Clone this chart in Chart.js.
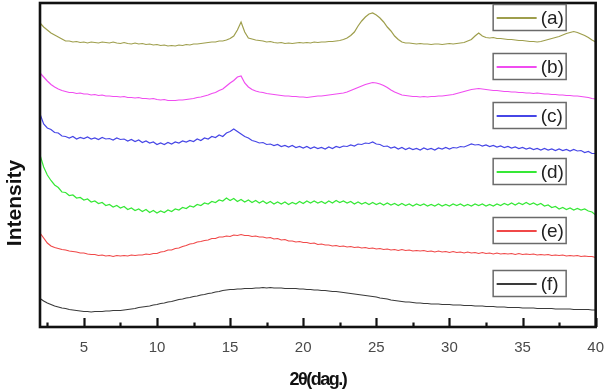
<!DOCTYPE html>
<html>
<head>
<meta charset="utf-8">
<script src="https://cdn.jsdelivr.net/npm/chart.js@4.4.1/dist/chart.umd.min.js"></script>
<style>
html,body{margin:0;padding:0;background:#fff;}
#wrap{width:616px;height:390px;position:relative;}
</style>
</head>
<body>
<div id="wrap"><canvas id="c" width="616" height="390"></canvas></div>
<script>
// 2-theta angles (deg)
const angles = [2,2.25,2.5,2.75,3,3.25,3.5,3.75,4,4.25,4.5,4.75,5,5.25,5.5,5.75,6,6.25,6.5,6.75,7,7.25,7.5,7.75,8,8.25,8.5,8.75,9,9.25,9.5,9.75,10,10.25,10.5,10.75,11,11.25,11.5,11.75,12,12.25,12.5,12.75,13,13.25,13.5,13.75,14,14.25,14.5,14.75,15,15.25,15.5,15.75,16,16.25,16.5,16.75,17,17.25,17.5,17.75,18,18.25,18.5,18.75,19,19.25,19.5,19.75,20,20.25,20.5,20.75,21,21.25,21.5,21.75,22,22.25,22.5,22.75,23,23.25,23.5,23.75,24,24.25,24.5,24.75,25,25.25,25.5,25.75,26,26.25,26.5,26.75,27,27.25,27.5,27.75,28,28.25,28.5,28.75,29,29.25,29.5,29.75,30,30.25,30.5,30.75,31,31.25,31.5,31.75,32,32.25,32.5,32.75,33,33.25,33.5,33.75,34,34.25,34.5,34.75,35,35.25,35.5,35.75,36,36.25,36.5,36.75,37,37.25,37.5,37.75,38,38.25,38.5,38.75,39,39.25,39.5,39.75,40];

// intensities (offset, arbitrary units)
const seriesA = [304,300,297,294, 292,290,288,286, 286,285,285.5,284.5, 285,284,285,284.5, 284,285,284.5,284, 285,284,283.5,284.5, 283.5,283,284,283, 283.5,282.5,283,282, 282.5,281.5,282,281, 281.5,281,282,281.5, 282.5,282,283,283, 283.5,284,284.5,285, 285,286,286,287, 288.5,291,297,305, 295,289,288,287, 286.5,286,285,285.5, 284.5,284,284.5,283.5, 284,283.5,284,284.5, 284,284.5,284,285, 284.5,285,285,285.5, 285.5,286,286.5,287.5, 289,291.5,295,301, 306,310,313,314, 312,309,305,300, 296,291,287.5,285, 284,284,283.5,283, 283.5,283,283,282.5, 283,283,282.5,283, 283.5,283,283.5,284, 284.5,286,287.5,291, 294,291,289.5,289, 289.5,288.5,288.5,288, 287.5,287.5,287,286.5, 286.5,286,285.5,285.5, 285,285.5,286.5,287.5, 288.5,289.5,290.5,292, 293.5,294.5,295.5,294.5, 293,291.5,289.5,287, 285];
const seriesB = [254,250,246,242.5, 240,238,236.5,235.5, 234.5,234.5,233.5,234, 233,233,232,232.5, 231.5,232,231,231, 230.5,230.5,230,230.5, 229.5,229.5,229,229.5, 228.5,228.5,228,228.5, 227.5,227,227.5,226.5, 226.5,226.5,227,227, 227.5,228,228.5,229.5, 230,231,232,233.5, 234.5,236.5,238,241, 244,246.5,250,251, 244,240,237.5,236, 235,234.5,233.5,233, 232.5,232,231.5,231, 231,230.5,230.5,230, 230,229.5,230,230.5, 231,231,231.5,232, 232.5,233,233.5,234, 235,236.5,238,239.5, 241,242.5,243.5,244.5, 244,243,241.5,239.5, 237,235,233.5,232, 231.5,231,230.5,230.5, 230,230.5,230,230.5, 230.5,231,231,231.5, 232,232.5,233.5,234.5, 235.5,236.5,237.5,238, 238.5,238,237.5,237, 236.5,236.5,236,235.5, 235.5,235,235,234.5, 234.5,234,234,233.5, 234,233.5,233,233, 232.5,232.5,232,232, 231.5,231.5,231,231, 230.5,230,229.5,228.5, 228];
const seriesC = [213,203,199,197.5, 194.5,194,191,190.5, 189,190.5,188,189.5, 188.5,190,188,189, 187.5,189.5,188,188.5, 187,189,187.5,188, 186,187.5,185.5,187, 184.5,186,184,185, 182.5,184,182.5,184.5, 183,185,184,186, 185,186.5,185.5,188, 186.5,189,188,190.5, 189.5,192,190.5,194, 195.5,198,195.5,193, 190.5,189,186.5,185.5, 184,184.5,182.5,183, 181.5,182.5,180.5,181.5, 180,181.5,179.5,180.5, 179,180.5,178.5,180, 178.5,179.5,178,180, 178.5,180.5,179.5,181, 180.5,182,181,183, 182.5,184,183.5,185, 183,182.5,180.5,181, 179,180,178,179.5, 177.5,179,177.5,178.5, 177,179,177.5,178.5, 177,179,178,179.5, 178,179.5,179,180.5, 180,181.5,183,182, 182.5,181,182,180.5, 181.5,180,181,179.5, 180.5,179,180,178.5, 179.5,178,179,177.5, 178.5,177,178.5,177, 178,176.5,178,176.5, 177.5,176,177.5,176, 176.5,174.5,175.5,173.5, 173.5];
const seriesD = [172,160,152,146.5, 142,139.5,135,134.5, 131.5,132,129,129.5, 127,128,125,126, 123.5,124.5,121.5,122.5, 120,121.5,119,120.5, 117.5,119,116.5,118, 115.5,117.5,114.5,116.5, 114,116,114.5,117, 115.5,118,117,119.5, 118.5,121,120,122.5, 121.5,124,123,125.5, 124.5,127,126,129, 126.5,128.5,125.5,127.5, 125,127,124.5,126.5, 124,126,123.5,125.5, 123,125,123,125, 122.5,124.5,123,125.5, 123.5,126,124,126, 124,125.5,123.5,126, 124,126.5,124.5,126, 124,125.5,123,125, 123,124.5,122.5,124.5, 122.5,124,122,124, 122,123.5,121.5,123.5, 121.5,123,121,123, 121.5,123,121,122.5, 121,123,121,122.5, 121,123,121.5,123, 121,122.5,121,123, 121.5,123,121,122.5, 121,123,121.5,123.5, 122,124,122,124, 122.5,124.5,122.5,124, 122,123.5,121,122, 119.5,120.5,118,119.5, 117.5,119,117,118.5, 117,118,116,115, 112];
const seriesE = [94,89,84,81, 79.5,78.5,77.5,77, 76,75.5,75,74, 74,73,72.5,72.5, 71.5,72,71,71.5, 70.5,71.5,71,71.5, 71,72,71.5,72, 72,73,72.5,73.5, 73.5,75,75.5,77, 77,78.5,79,80.5, 81.5,83,83.5,85, 85.5,86.5,87,88.5, 88.5,90,90,91, 90.5,92,91.5,92.5, 91.5,91.5,90.5,91, 90,90,89,89.5, 88,88.5,87,87.5, 86,86,85,85.5, 84.5,84.5,83.5,84, 82.5,83,82,82, 81,81.5,80.5,81, 80,80.5,79.5,80, 79,79.5,78.5,79, 78,78.5,77.5,78, 77,77.5,76.5,77.5, 76.5,77,76,76.5, 76,76.5,75.5,76, 75,76,75,75.5, 74.5,75.5,74.5,75, 74,75,74,74.5, 73.5,74.5,73.5,74, 73,74,73,73.5, 73,73.5,72.5,73.5, 72.5,73,72.5,73, 72,72.5,72,72.5, 71.5,72,71.5,72, 71,71.5,71,71.5, 70.5,71,70.5,70.5, 69.5];
const seriesF = [28.5,26,24,22.5, 21,20,19,18.5, 17.5,17,16.5,16, 15.5,15.5,15,15.5, 15.5,15.5,16,16, 16.5,16.5,16.5,17, 17.5,18,18.5,19.5, 20,20.5,21,22, 22.5,23.5,24,25, 25.5,26.5,27.5,28, 29,29.5,30.5,31, 32,32.5,33.5,34, 35,35.5,36.5,37, 37.5,37.5,38,38, 38.5,38.5,38.5,39, 39,39.5,39,39.5, 39,39,39,38.5, 38.5,38.5,38.5,38, 38,37.5,37.5,37, 37,36.5,36.5,36, 35.5,35.5,35,34.5, 34,33.5,33,32.5, 32,31.5,31,30.5, 30,29,28.5,28, 27,26.5,26,25.5, 25,25,24.5,24, 24,23.5,23.5,23, 23,23,22.5,22.5, 22.5,22,22,22, 21.5,21.5,21.5,21, 21,21,20.5,20.5, 20.5,20,20,20, 19.5,19.5,19.5,19.5, 19,19,19,19, 18.5,18.5,18.5,18.5, 18.5,18,18,18, 18,18,17.5,17.5, 17.5,17.5,17.5,17, 17];

const seriesNames = ['(a)','(b)','(c)','(d)','(e)','(f)'];
const xTickValues = [5,10,15,20,25,30,35,40];
const xMinorTickValues = [2.5,7.5,12.5,17.5,22.5,27.5,32.5,37.5];

const seriesList = [seriesA, seriesB, seriesC, seriesD, seriesE, seriesF];
const colors = ['#9e9e4c','#f04cf0','#4646e6','#36e836','#f04848','#3a3a3a'];
const legendTops = [1, 50, 99, 155, 214, 267]; // offsets from plot top (layout)

const FONT = '"Liberation Sans", Arial, Helvetica, sans-serif';

const datasets = seriesList.map((arr, k) => ({
  label: seriesNames[k],
  data: angles.map((x, i) => ({x: x, y: arr[i]})),
  borderColor: colors[k],
  borderWidth: 1.2,
  pointRadius: 0,
  tension: 0,
  fill: false
}));

const decor = {
  id: 'decor',
  afterDraw(chart) {
    const {ctx, chartArea: ca, scales} = chart;
    const x = scales.x;
    ctx.save();
    // inside ticks on the bottom axis
    ctx.strokeStyle = '#111';
    ctx.lineWidth = 2.2;
    xTickValues.forEach(v => {
      const px = Math.round(x.getPixelForValue(v)) + 0.5;
      ctx.beginPath(); ctx.moveTo(px, ca.bottom); ctx.lineTo(px, ca.bottom - 9); ctx.stroke();
    });
    xMinorTickValues.forEach(v => {
      const px = Math.round(x.getPixelForValue(v)) + 0.5;
      ctx.beginPath(); ctx.moveTo(px, ca.bottom); ctx.lineTo(px, ca.bottom - 4.5); ctx.stroke();
    });
    // frame
    ctx.lineWidth = 2.6;
    ctx.strokeStyle = '#111';
    ctx.strokeRect(ca.left, ca.top, ca.right - ca.left, ca.bottom - ca.top);

    // legend boxes next to each trace
    const bx = ca.right - 103;
    seriesNames.forEach((name, k) => {
      const by = ca.top + legendTops[k];
      ctx.fillStyle = '#fff';
      ctx.fillRect(bx, by, 74, 27);
      ctx.strokeStyle = '#6a6a6a';
      ctx.lineWidth = 1.5;
      ctx.strokeRect(bx + 0.5, by + 0.5, 73, 26);
      ctx.strokeStyle = colors[k];
      ctx.lineWidth = 2;
      ctx.beginPath(); ctx.moveTo(bx + 4, by + 14); ctx.lineTo(bx + 44, by + 14); ctx.stroke();
      ctx.fillStyle = '#222';
      ctx.font = '19px ' + FONT;
      ctx.textBaseline = 'middle';
      ctx.textAlign = 'left';
      ctx.fillText(name, bx + 48, by + 14.5);
    });

    // axis titles
    ctx.fillStyle = '#111';
    ctx.font = 'bold 21px ' + FONT;
    ctx.textAlign = 'center';
    ctx.textBaseline = 'middle';
    ctx.save();
    ctx.translate(15, 203);
    ctx.rotate(-Math.PI / 2);
    ctx.fillText('Intensity', 0, 0);
    ctx.restore();

    ctx.font = 'bold 18px ' + FONT;
    try { ctx.letterSpacing = '-1.5px'; } catch (e) {}
    ctx.fillText('2\u03B8(dag.)', (ca.left + ca.right) / 2, 380);
    ctx.restore();
  }
};

new Chart(document.getElementById('c'), {
  type: 'line',
  data: { datasets: datasets },
  options: {
    responsive: false,
    animation: false,
    events: [],
    layout: { padding: { top: 3, right: 13, left: 0, bottom: 0 } },
    plugins: { legend: { display: false }, tooltip: { enabled: false }, title: { display: false } },
    scales: {
      x: {
        type: 'linear',
        min: 2,
        max: 40,
        afterBuildTicks: s => { s.ticks = xTickValues.map(v => ({value: v})); },
        afterFit: s => { s.height = 63; },
        grid: { display: false, drawTicks: false },
        border: { display: false },
        ticks: { color: '#4a4a4a', font: { family: FONT, size: 15 }, padding: 12, maxRotation: 0, autoSkip: false }
      },
      y: {
        min: 0,
        max: 324,
        afterFit: s => { s.width = 40; },
        grid: { display: false, drawTicks: false },
        border: { display: false },
        ticks: { display: false }
      }
    }
  },
  plugins: [decor]
});
</script>
</body>
</html>
